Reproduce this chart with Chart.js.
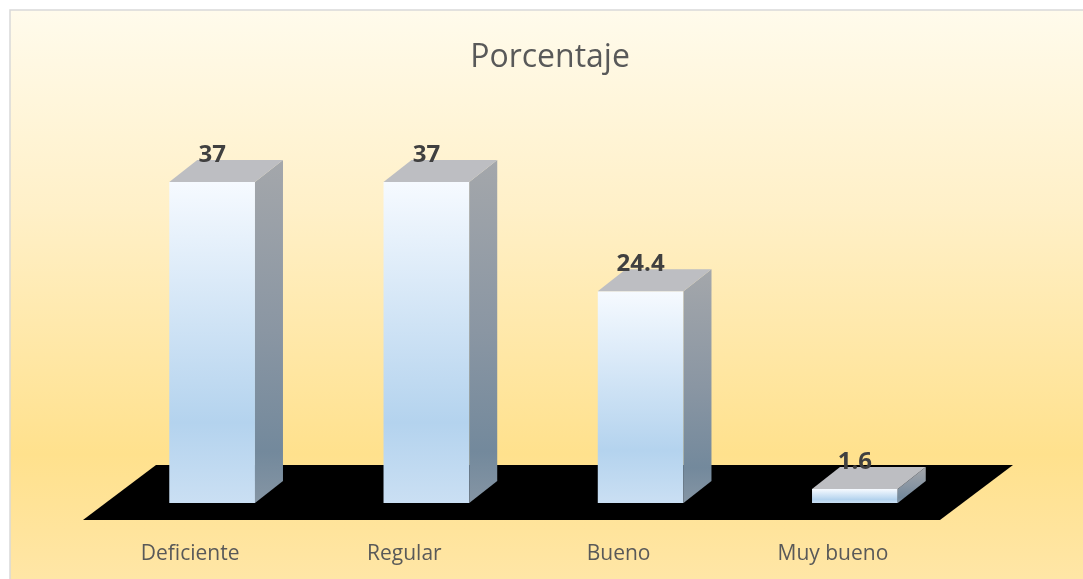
<!DOCTYPE html>
<html>
<head>
<meta charset="utf-8">
<script src="https://cdn.jsdelivr.net/npm/chart.js@4/dist/chart.umd.min.js"></script>
<style>
  html, body { margin: 0; padding: 0; background: #ffffff; }
  #wrap { width: 1083px; height: 579px; position: relative; }
</style>
</head>
<body>
<div id="wrap"><canvas id="chart"></canvas></div>
<script>
const categories = ['Deficiente', 'Regular', 'Bueno', 'Muy bueno'];
const porcentaje = [37, 37, 24.4, 1.6];
const valueLabels = ['37', '37', '24.4', '1.6'];
const chartTitle = 'Porcentaje';

// depth of the 3D look, in px
const DEPTH_X = 28, DEPTH_Y = 22;     // bar depth
const FLOOR_FX = 22, FLOOR_FY = 17;   // floor front edge offset from the bars
const FLOOR_BX = 51, FLOOR_BY = 38;   // floor back edge offset from the bars

// background frame with the cream-to-yellow gradient, plus the title
const framePlugin = {
  id: 'frame',
  beforeDraw(chart) {
    const ctx = chart.ctx;
    ctx.save();
    const g = ctx.createLinearGradient(0, 10, 0, 579);
    g.addColorStop(0, '#fffbec');
    g.addColorStop(0.35, '#fff0c8');
    g.addColorStop(0.78, '#ffe18d');
    g.addColorStop(1, '#ffe6a6');
    ctx.fillStyle = g;
    ctx.fillRect(10, 10, 1090, 580);
    ctx.strokeStyle = '#d9d9d9';
    ctx.lineWidth = 1.5;
    ctx.strokeRect(10, 10, 1090, 580);

    // title sits centred on the frame, not on the plot area
    ctx.fillStyle = '#595959';
    ctx.font = '32px "Open Sans"';
    ctx.textAlign = 'center';
    ctx.textBaseline = 'alphabetic';
    ctx.fillText(chartTitle, 550, 67);
    ctx.restore();
  }
};

// black floor, bar sides and tops, value labels
const bars3d = {
  id: 'bars3d',
  beforeDatasetsDraw(chart) {
    const ctx = chart.ctx, a = chart.chartArea;
    ctx.save();
    ctx.fillStyle = '#000000';
    ctx.beginPath();
    ctx.moveTo(a.left - FLOOR_FX, a.bottom + FLOOR_FY);
    ctx.lineTo(a.right - FLOOR_FX, a.bottom + FLOOR_FY);
    ctx.lineTo(a.right + FLOOR_BX, a.bottom - FLOOR_BY);
    ctx.lineTo(a.left + FLOOR_BX, a.bottom - FLOOR_BY);
    ctx.closePath();
    ctx.fill();
    ctx.restore();
  },
  afterDatasetsDraw(chart) {
    const ctx = chart.ctx;
    const meta = chart.getDatasetMeta(0);
    ctx.save();
    meta.data.forEach(function(bar, i) {
      const p = bar.getProps(['x', 'y', 'base', 'width'], true);
      const x1 = p.x - p.width / 2, x2 = p.x + p.width / 2;
      const top = p.y, base = p.base;

      // side face
      const sg = ctx.createLinearGradient(0, top - DEPTH_Y, 0, base);
      sg.addColorStop(0, '#a4a7ab');
      sg.addColorStop(0.5, '#8a96a3');
      sg.addColorStop(0.85, '#73899c');
      sg.addColorStop(1, '#8595a4');
      ctx.fillStyle = sg;
      ctx.beginPath();
      ctx.moveTo(x2, top);
      ctx.lineTo(x2 + DEPTH_X, top - DEPTH_Y);
      ctx.lineTo(x2 + DEPTH_X, base - DEPTH_Y);
      ctx.lineTo(x2, base);
      ctx.closePath();
      ctx.fill();

      // top face
      ctx.fillStyle = '#bdbec2';
      ctx.beginPath();
      ctx.moveTo(x1, top);
      ctx.lineTo(x1 + DEPTH_X, top - DEPTH_Y);
      ctx.lineTo(x2 + DEPTH_X, top - DEPTH_Y);
      ctx.lineTo(x2, top);
      ctx.closePath();
      ctx.fill();

      // value label
      ctx.fillStyle = '#404040';
      ctx.font = 'bold 24px "Open Sans"';
      ctx.textAlign = 'center';
      ctx.textBaseline = 'alphabetic';
      ctx.fillText(valueLabels[i], p.x, top - 20);
    });
    ctx.restore();
  }
};

const ctx = document.getElementById('chart').getContext('2d');
new Chart(ctx, {
  type: 'bar',
  data: {
    labels: categories,
    datasets: [{
      label: chartTitle,
      data: porcentaje,
      backgroundColor: function(c) {
        const chart = c.chart;
        if (!chart.chartArea) return '#b4d3ee';
        const y = chart.scales.y;
        const top = y.getPixelForValue(c.raw);
        const base = y.getPixelForValue(0);
        const g = chart.ctx.createLinearGradient(0, top, 0, base);
        g.addColorStop(0, '#f6faff');
        g.addColorStop(0.75, '#b4d3ee');
        g.addColorStop(1, '#cadff3');
        return g;
      },
      borderWidth: 0,
      barPercentage: 0.4,
      categoryPercentage: 1.0
    }]
  },
  options: {
    responsive: true,
    maintainAspectRatio: false,
    animation: false,
    layout: { padding: { left: 105, right: 121, top: 156, bottom: 0 } },
    plugins: {
      legend: { display: false },
      tooltip: { enabled: false },
      title: { display: false }
    },
    scales: {
      x: {
        grid: { display: false, drawTicks: false },
        border: { display: false },
        ticks: {
          color: '#595959',
          font: { family: '"Open Sans"', size: 21 },
          padding: 38,
          labelOffset: -FLOOR_FX
        },
        afterFit: function(s) { s.height = 76; }
      },
      y: {
        display: false,
        min: 0,
        max: 40
      }
    }
  },
  plugins: [framePlugin, bars3d]
});
</script>
</body>
</html>
